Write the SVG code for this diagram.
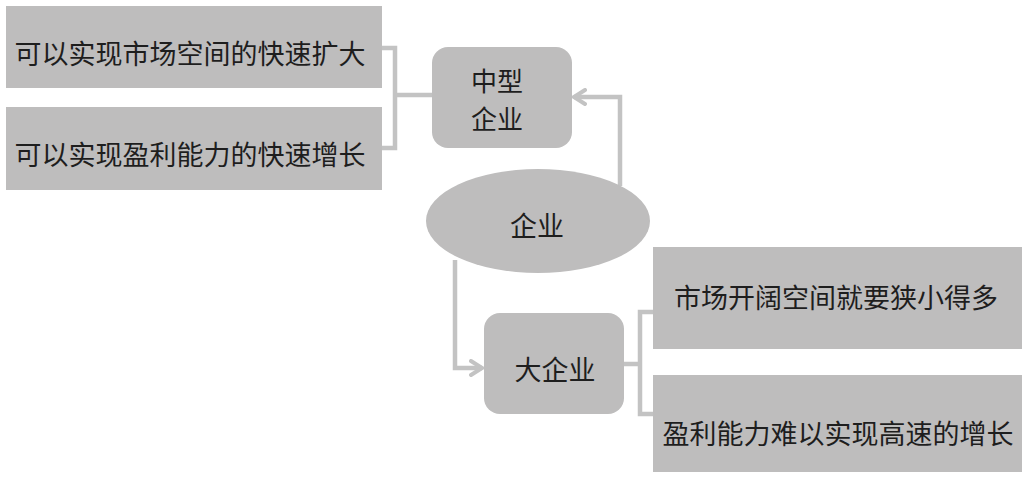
<svg xmlns="http://www.w3.org/2000/svg" width="1030" height="477" viewBox="0 0 1030 477">
<defs>
<style>
.box{fill:#bebdbd;}
.t{font-family:"Noto Sans CJK SC","Noto Sans CJK TC",sans-serif;font-size:27px;fill:#1e1e1e;text-anchor:middle;dominant-baseline:central;}
.m{font-size:26px;}
.ln{fill:none;stroke:#c3c3c3;stroke-width:4.5;}
</style>
<marker id="chev" markerWidth="16" markerHeight="18" refX="13" refY="9" orient="auto" markerUnits="userSpaceOnUse">
<path d="M2,2 L13,9 L2,16" fill="none" stroke="#c3c3c3" stroke-width="4" stroke-linecap="round"/>
</marker>
</defs>
<rect width="1030" height="477" fill="#ffffff"/>
<g id="connectors">
<path class="ln" d="M382,48 H395 V148 H382 M395,95 H432"/>
<path class="ln" d="M620,186 V97 H574" marker-end="url(#chev)"/>
<path class="ln" d="M455,260 V368 H482" marker-end="url(#chev)"/>
<path class="ln" d="M624,364 H640 M653,312 H640 V414 H653"/>
</g>
<g id="n-left1"><rect class="box" x="6" y="6" width="376" height="82"/><text class="t" x="190" y="52">可以实现市场空间的快速扩大</text></g>
<g id="n-left2"><rect class="box" x="6" y="107" width="376" height="83"/><text class="t" x="190" y="153">可以实现盈利能力的快速增长</text></g>
<g id="n-mid"><rect class="box" x="432" y="47" width="140" height="101" rx="16"/><text class="t m" x="497" y="79">中型</text><text class="t m" x="497" y="117">企业</text></g>
<g id="n-ent"><ellipse class="box" cx="538" cy="221" rx="112" ry="52"/><text class="t" x="537" y="224">企业</text></g>
<g id="n-big"><rect class="box" x="484" y="313" width="140" height="101" rx="16"/><text class="t" x="555" y="368">大企业</text></g>
<g id="n-right1"><rect class="box" x="653" y="247" width="369" height="102"/><text class="t" x="836" y="296">市场开阔空间就要狭小得多</text></g>
<g id="n-right2"><rect class="box" x="653" y="375" width="369" height="97"/><text class="t" x="838" y="432">盈利能力难以实现高速的增长</text></g>
</svg>
